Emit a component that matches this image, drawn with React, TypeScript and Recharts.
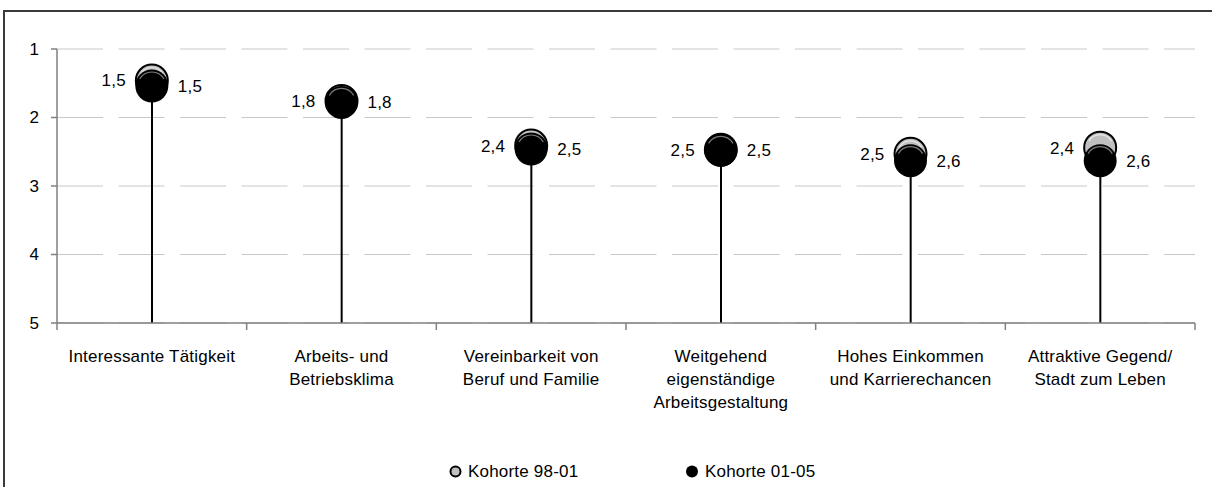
import { ComposedChart, Bar, Line, XAxis, YAxis, CartesianGrid } from 'recharts';

const categories = [
  'Interessante Tätigkeit',
  'Arbeits- und\nBetriebsklima',
  'Vereinbarkeit von\nBeruf und Familie',
  'Weitgehend\neigenständige\nArbeitsgestaltung',
  'Hohes Einkommen\nund Karrierechancen',
  'Attraktive Gegend/\nStadt zum Leben',
];

// mean ratings (1 = very important, 5 = unimportant)
const kohorte9801 = [1.46, 1.76, 2.41, 2.47, 2.53, 2.44];
const kohorte0105 = [1.54, 1.78, 2.46, 2.48, 2.63, 2.63];

const yTicks = [1, 2, 3, 4, 5];
const xTicks = [0, 0.5, 1, 1.5, 2, 2.5, 3, 3.5, 4, 4.5, 5, 5.5, 6];

const FONT = '"Liberation Sans", Arial, sans-serif';
const FS = 17;
const LS = 0.2;
const GREY = '#c0c0c0';
const AXIS = '#808080';

const data = categories.map((name, i) => ({
  x: i + 0.5,
  name,
  k1: kohorte9801[i],
  k2: kohorte0105[i],
  stem: [kohorte0105[i], 5],
}));

const fmt = (v: number) => v.toFixed(1).replace('.', ',');

const highlight = (cx: number, cy: number, r: number) => {
  const a0 = (210 * Math.PI) / 180;
  const a1 = (330 * Math.PI) / 180;
  const x0 = cx + r * Math.cos(a0);
  const y0 = cy + r * Math.sin(a0);
  const x1 = cx + r * Math.cos(a1);
  const y1 = cy + r * Math.sin(a1);
  return `M${x0},${y0} A${r},${r} 0 0 1 ${x1},${y1}`;
};

const GreyDot = (props: any) => {
  const { cx, cy, value } = props;
  if (cx == null || cy == null) return null;
  return (
    <g>
      <circle cx={cx} cy={cy} r={16} fill={GREY} stroke="#000" strokeWidth={2} />
      <path d={highlight(cx, cy, 13)} fill="none" stroke="#e8e8e8" strokeWidth={1.2} />
      <text x={cx - 26} y={cy} dy="0.35em" textAnchor="end" fontSize={FS}
        fontFamily={FONT} letterSpacing={LS} fill="#000">{fmt(value)}</text>
    </g>
  );
};

const BlackDot = (props: any) => {
  const { cx, cy, value } = props;
  if (cx == null || cy == null) return null;
  return (
    <g>
      <circle cx={cx} cy={cy} r={16.5} fill="#000" />
      <path d={highlight(cx, cy, 14)} fill="none" stroke="#7a7a7a" strokeWidth={1.2} />
      <text x={cx + 26} y={cy} dy="0.35em" textAnchor="start" fontSize={FS}
        fontFamily={FONT} letterSpacing={LS} fill="#000">{fmt(value)}</text>
    </g>
  );
};

const Stem = (props: any) => {
  const { x, y, width, height } = props;
  const top = Math.min(y, y + height);
  const bottom = Math.max(y, y + height);
  const cx = x + width / 2;
  return <line x1={cx} x2={cx} y1={top} y2={bottom} stroke="#000" strokeWidth={2} />;
};

const XTick = (props: any) => {
  const { x, y, payload } = props;
  const v = payload.value as number;
  if (Number.isInteger(v)) {
    return <line x1={x} x2={x} y1={y} y2={y + 7} stroke={AXIS} strokeWidth={1.5} />;
  }
  const lines = categories[Math.floor(v)].split('\n');
  return (
    <text x={x} y={y + 39} textAnchor="middle" fontSize={FS} fontFamily={FONT}
      letterSpacing={LS} fill="#000">
      {lines.map((l, i) => (
        <tspan key={i} x={x} dy={i === 0 ? 0 : 23}>{l}</tspan>
      ))}
    </text>
  );
};

const YTick = (props: any) => {
  const { x, y, payload } = props;
  return (
    <text x={x} y={y} dy="0.35em" textAnchor="end" fontSize={FS} fontFamily={FONT} fill="#000">
      {payload.value}
    </text>
  );
};

export default function App() {
  return (
    <div style={{ position: 'absolute', left: 0, top: 0, width: 1212, height: 487, overflow: 'hidden', background: '#fff' }}>
      <svg width={1212} height={487} style={{ position: 'absolute', left: 0, top: 0 }}>
        <path d="M4,487 L4,11 L1212,11" fill="none" stroke="#3a3a3a" strokeWidth={2} />
      </svg>
      <div style={{ position: 'absolute', left: 0, top: 0 }}>
        <ComposedChart width={1212} height={487} data={data}
          margin={{ top: 49, right: 17, bottom: 104, left: 0 }}>
          <CartesianGrid horizontal vertical={false} stroke="#c8c8c8" strokeDasharray="46 15.5" />
          <XAxis dataKey="x" type="number" domain={[0, 6]} ticks={xTicks} interval={0}
            tick={<XTick />} tickLine={false} tickSize={0} tickMargin={0} height={60}
            axisLine={{ stroke: AXIS, strokeWidth: 1.5 }} allowDataOverflow />
          <YAxis type="number" domain={[1, 5]} reversed ticks={yTicks} interval={0} width={57}
            tick={<YTick />} tickSize={6} tickMargin={12}
            tickLine={{ stroke: AXIS, strokeWidth: 1.5 }} axisLine={{ stroke: AXIS, strokeWidth: 1.5 }} />
          <Bar dataKey="stem" barSize={2} shape={<Stem />} isAnimationActive={false} />
          <Line dataKey="k1" stroke="none" dot={<GreyDot />} activeDot={false} isAnimationActive={false} />
          <Line dataKey="k2" stroke="none" dot={<BlackDot />} activeDot={false} isAnimationActive={false} />
        </ComposedChart>
      </div>
      <svg width={1212} height={487} style={{ position: 'absolute', left: 0, top: 0, pointerEvents: 'none' }}>
        <circle cx={455.5} cy={471.5} r={5} fill={GREY} stroke="#000" strokeWidth={2} />
        <text x={468} y={471.5} dy="0.35em" fontSize={FS} fontFamily={FONT} letterSpacing={LS} fill="#000">Kohorte 98-01</text>
        <circle cx={692} cy={471.5} r={6} fill="#000" />
        <text x={705} y={471.5} dy="0.35em" fontSize={FS} fontFamily={FONT} letterSpacing={LS} fill="#000">Kohorte 01-05</text>
      </svg>
    </div>
  );
}
